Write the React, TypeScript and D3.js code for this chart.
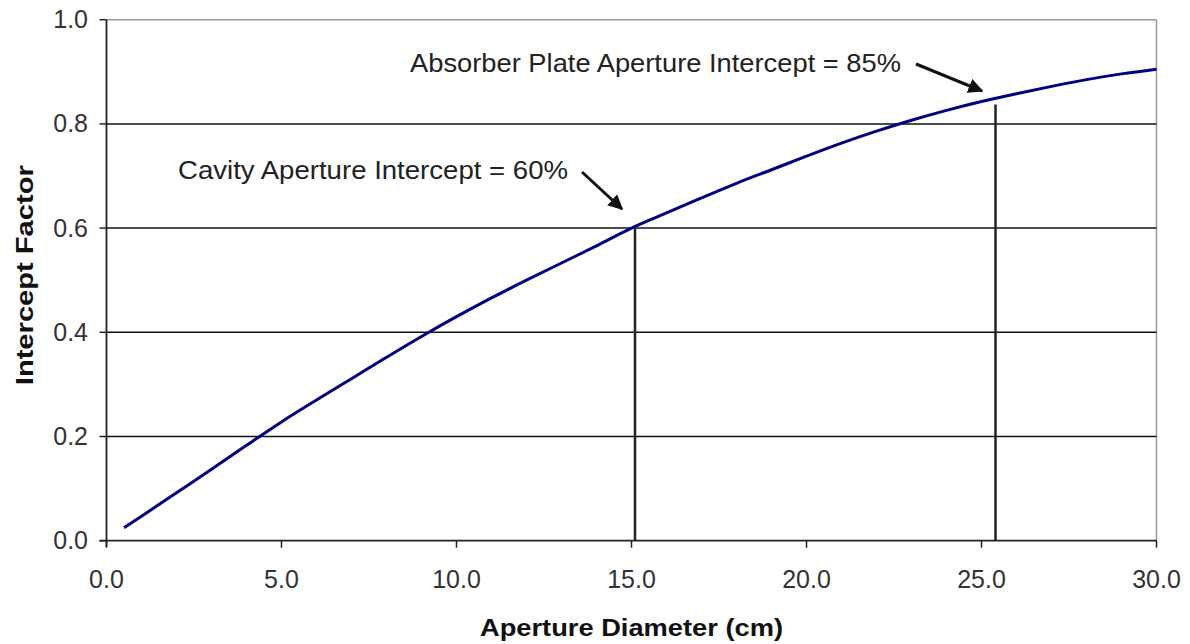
import React from "react";
import * as d3 from "d3";

// Intercept factor versus aperture diameter
const diameters = [0.5, 1, 2, 3, 4, 5, 6, 7, 8, 9, 10, 11, 12, 13, 14, 15, 16, 17, 18, 19, 20, 21, 22, 23, 24, 25, 26, 27, 28, 29, 30];
const intercepts = [0.025, 0.047, 0.092, 0.137, 0.183, 0.228, 0.27, 0.311, 0.352, 0.392, 0.43, 0.466, 0.5, 0.533, 0.566, 0.6, 0.629, 0.658, 0.686, 0.712, 0.738, 0.763, 0.786, 0.807, 0.826, 0.843, 0.858, 0.872, 0.885, 0.896, 0.905];

const xTicks = [0, 5, 10, 15, 20, 25, 30];
const yTicks = [0, 0.2, 0.4, 0.6, 0.8, 1.0];

// Marker lines: aperture diameter and the intercept they reach
const markerX = [15.1, 25.4];
const markerY = [0.6, 0.837];
const markerLabels = ["Cavity Aperture Intercept = 60%", "Absorber Plate Aperture Intercept = 85%"];

const W = 1190;
const H = 644;
const left = 106.5;
const right = 1156.5;
const top = 19.7;
const bottom = 540.7;

export default function App() {
  const x = d3.scaleLinear().domain([0, 30]).range([left, right]);
  const y = d3.scaleLinear().domain([0, 1]).range([bottom, top]);

  const pts: [number, number][] = diameters.map((d, i) => [d, intercepts[i]]);
  const line = d3
    .line<[number, number]>()
    .x((d) => x(d[0]))
    .y((d) => y(d[1]))
    .curve(d3.curveMonotoneX);

  const font = "'Liberation Sans', Arial, sans-serif";

  return (
    <svg
      width={W}
      height={H}
      style={{ position: "absolute", left: 0, top: 0, background: "#fff" }}
      fontFamily={font}
    >
      <defs>
        <marker id="arrowHead" viewBox="0 0 10 10" refX="9" refY="5" markerWidth="5" markerHeight="5" orient="auto">
          <path d="M0,0 L10,5 L0,10 z" fill="#111" />
        </marker>
      </defs>

      {/* plot frame: gray top and right borders */}
      <line x1={left} x2={right} y1={top} y2={top} stroke="#9a9a9a" strokeWidth={1.5} />
      <line x1={right} x2={right} y1={top} y2={bottom} stroke="#9a9a9a" strokeWidth={1.5} />

      {/* horizontal gridlines */}
      {yTicks
        .filter((t) => t > 0 && t < 1)
        .map((t) => (
          <line key={"g" + t} x1={left} x2={right} y1={y(t)} y2={y(t)} stroke="#111" strokeWidth={1.5} />
        ))}

      {/* y axis */}
      <line x1={left} x2={left} y1={top} y2={bottom + 6} stroke="#222" strokeWidth={1.8} />
      {yTicks.map((t) => (
        <g key={"y" + t}>
          <line x1={left - 7} x2={left} y1={y(t)} y2={y(t)} stroke="#222" strokeWidth={1.5} />
          <text x={88} y={y(t) + 8.5} textAnchor="end" fontSize={25} fill="#333">
            {t.toFixed(1)}
          </text>
        </g>
      ))}

      {/* x axis */}
      <line x1={left - 7} x2={right} y1={bottom} y2={bottom} stroke="#222" strokeWidth={1.8} />
      {xTicks.map((t) => (
        <g key={"x" + t}>
          <line x1={x(t)} x2={x(t)} y1={bottom} y2={bottom + 7} stroke="#222" strokeWidth={1.5} />
          <text x={x(t)} y={588} textAnchor="middle" fontSize={25} fill="#333">
            {t.toFixed(1)}
          </text>
        </g>
      ))}

      {/* marker lines */}
      {markerX.map((mx, i) => (
        <line key={"m" + i} x1={x(mx)} x2={x(mx)} y1={bottom} y2={y(markerY[i])} stroke="#222" strokeWidth={2.5} />
      ))}

      {/* intercept curve */}
      <path d={line(pts) || ""} fill="none" stroke="#000080" strokeWidth={3} />

      {/* annotations */}
      <text x={178} y={179} fontSize={25} fill="#222" textLength={390} lengthAdjust="spacingAndGlyphs">
        {markerLabels[0]}
      </text>
      <line x1={582} y1={172} x2={622} y2={209} stroke="#111" strokeWidth={3} markerEnd="url(#arrowHead)" />

      <text x={410} y={72} fontSize={25} fill="#222" textLength={491} lengthAdjust="spacingAndGlyphs">
        {markerLabels[1]}
      </text>
      <line x1={916} y1={64} x2={982} y2={91} stroke="#111" strokeWidth={3} markerEnd="url(#arrowHead)" />

      {/* axis titles */}
      <text
        x={(left + right) / 2}
        y={636}
        textAnchor="middle"
        fontSize={23}
        fontWeight="bold"
        fill="#111"
        textLength={303}
        lengthAdjust="spacingAndGlyphs"
      >
        Aperture Diameter (cm)
      </text>
      <text
        transform={`translate(33,${(top + bottom) / 2 - 5}) rotate(-90)`}
        textAnchor="middle"
        fontSize={23}
        fontWeight="bold"
        fill="#111"
        textLength={220}
        lengthAdjust="spacingAndGlyphs"
      >
        Intercept Factor
      </text>
    </svg>
  );
}
